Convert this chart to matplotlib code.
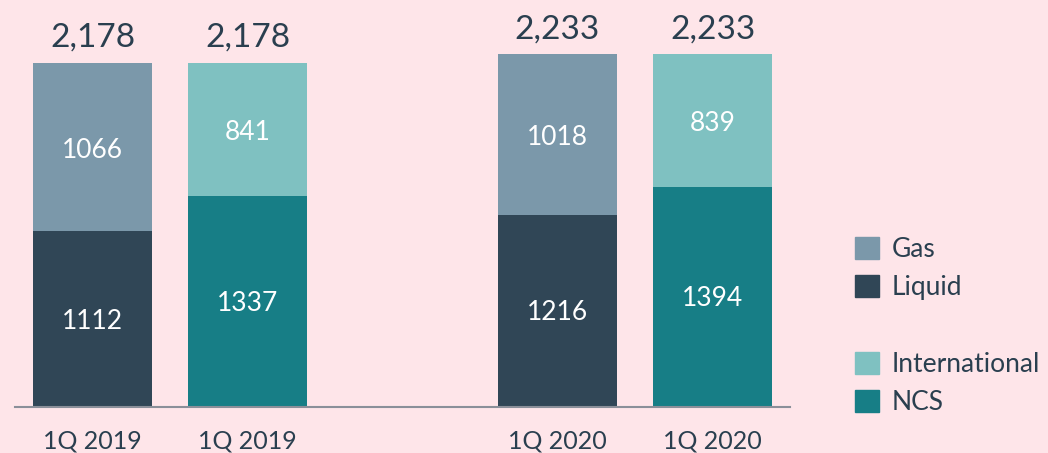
import matplotlib
matplotlib.use("Agg")
import matplotlib.pyplot as plt
from matplotlib.patches import Patch

categories = ["1Q 2019", "1Q 2019", "1Q 2020", "1Q 2020"]
positions = [0, 1, 3, 4]
bottom_vals = [1112, 1337, 1216, 1394]   # Liquid, NCS, Liquid, NCS
top_vals = [1066, 841, 1018, 839]        # Gas, International, Gas, International
totals = ["2,178", "2,178", "2,233", "2,233"]

c_gas = "#7b98aa"
c_liquid = "#304656"
c_intl = "#7fc1c1"
c_ncs = "#177e86"
bg = "#fee5e9"
txt = "#2a3f4f"

bottom_colors = [c_liquid, c_ncs, c_liquid, c_ncs]
top_colors = [c_gas, c_intl, c_gas, c_intl]

plt.rcParams['font.family'] = ['Lato', 'DejaVu Sans']

fig = plt.figure(figsize=(10.48, 4.53), dpi=100, facecolor=bg)
ax = fig.add_axes([15/1048, 46/453, 775/1048, 407/453], facecolor=bg)

w = 0.774
ax.bar(positions, bottom_vals, width=w, color=bottom_colors)
ax.bar(positions, top_vals, width=w, bottom=bottom_vals, color=top_colors)

for x, b, t, tot in zip(positions, bottom_vals, top_vals, totals):
    ax.annotate(str(b), (x, b / 2), xytext=(0, -2), textcoords="offset pixels",
                ha="center", va="center", color="white", fontsize=19)
    ax.annotate(str(t), (x, b + t / 2), xytext=(0, -3), textcoords="offset pixels",
                ha="center", va="center", color="white", fontsize=19)
    ax.annotate(tot, (x, b + t), xytext=(0, 25), textcoords="offset pixels",
                ha="center", va="center", color=txt, fontsize=24)

ax.set_xlim(-0.5, 4.5)
ax.set_ylim(0, 2576)
for s in ["top", "right", "left"]:
    ax.spines[s].set_visible(False)
ax.spines["bottom"].set_color("#8a8f99")
ax.spines["bottom"].set_linewidth(1.5)
ax.set_yticks([])
ax.set_xticks(positions)
ax.set_xticklabels(categories, fontsize=18, color=txt)
ax.tick_params(axis="x", length=0, pad=16)

handles = [Patch(color=c_gas, label="Gas"),
           Patch(color=c_liquid, label="Liquid"),
           Patch(color="none", label=" "),
           Patch(color=c_intl, label="International"),
           Patch(color=c_ncs, label="NCS")]
leg = fig.legend(handles=handles, loc="upper left", bbox_to_anchor=(855/1048, 1 - 237/453),
                 frameon=False, fontsize=19, labelcolor=txt, handlelength=0.9, handleheight=0.9,
                 handletextpad=0.5, labelspacing=0.5, borderpad=0, borderaxespad=0)

fig.savefig("out.png", dpi=100, facecolor=bg)
